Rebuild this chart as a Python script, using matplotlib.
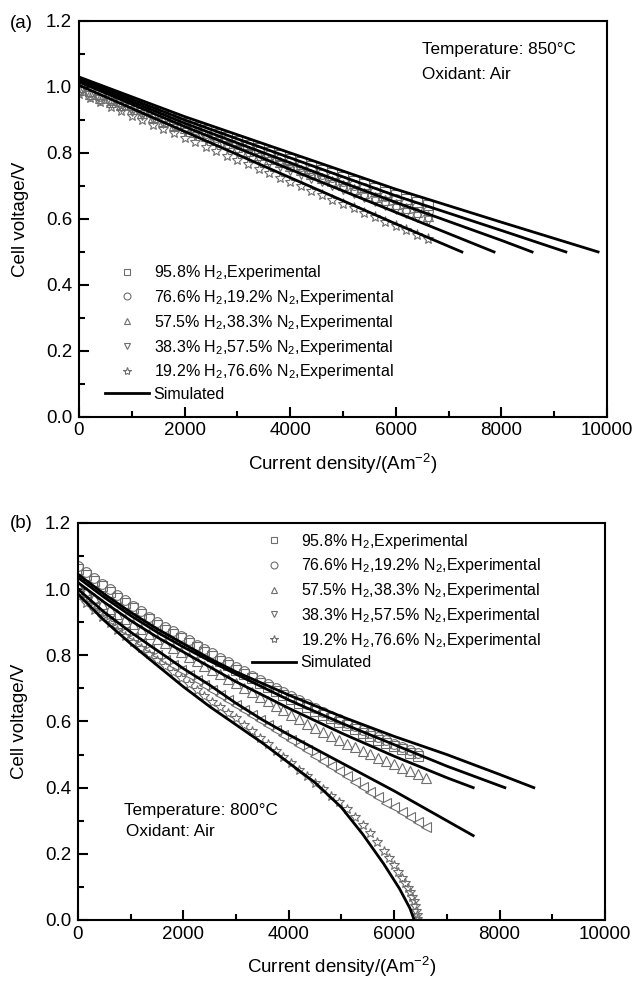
import matplotlib
matplotlib.use('Agg')
import matplotlib.pyplot as plt
from matplotlib.lines import Line2D

plt.rcParams['font.family'] = ['Liberation Sans', 'DejaVu Sans']
plt.rcParams['mathtext.fontset'] = 'custom'
plt.rcParams['mathtext.rm'] = 'Liberation Sans'
plt.rcParams['mathtext.it'] = 'Liberation Sans:italic'
plt.rcParams['mathtext.bf'] = 'Liberation Sans:bold'

labels = ['95.8% H$_2$,Experimental',
          '76.6% H$_2$,19.2% N$_2$,Experimental',
          '57.5% H$_2$,38.3% N$_2$,Experimental',
          '38.3% H$_2$,57.5% N$_2$,Experimental',
          '19.2% H$_2$,76.6% N$_2$,Experimental']
legend_markers = ['s', 'o', '^', 'v', '*']

# ---------------- panel (a): 850 C ----------------
xa = [0, 200, 400, 600, 800, 1000, 1200, 1400, 1600, 1800, 2000, 2200, 2400, 2600,
      2800, 3000, 3200, 3400, 3600, 3800, 4000, 4200, 4400, 4600, 4800, 5000, 5200,
      5400, 5600, 5800, 6000, 6200, 6400, 6600]
a_958 = [1.000, 0.989, 0.978, 0.967, 0.956, 0.945, 0.934, 0.924, 0.913, 0.902, 0.891,
         0.880, 0.869, 0.858, 0.847, 0.836, 0.825, 0.814, 0.803, 0.793, 0.782, 0.771,
         0.760, 0.749, 0.738, 0.727, 0.716, 0.705, 0.694, 0.683, 0.672, 0.661, 0.651, 0.642]
a_766 = [0.995, 0.984, 0.973, 0.961, 0.950, 0.939, 0.928, 0.917, 0.905, 0.894, 0.883,
         0.872, 0.861, 0.849, 0.838, 0.827, 0.816, 0.805, 0.793, 0.782, 0.771, 0.760,
         0.749, 0.737, 0.726, 0.715, 0.704, 0.693, 0.681, 0.670, 0.659, 0.648, 0.637, 0.625]
a_575 = [0.990, 0.978, 0.967, 0.955, 0.944, 0.932, 0.921, 0.909, 0.898, 0.886, 0.875,
         0.863, 0.852, 0.840, 0.829, 0.817, 0.806, 0.794, 0.783, 0.771, 0.760, 0.748,
         0.737, 0.725, 0.714, 0.702, 0.690, 0.679, 0.667, 0.656, 0.644, 0.633, 0.621, 0.610]
a_383 = [0.985, 0.973, 0.961, 0.950, 0.938, 0.926, 0.914, 0.902, 0.891, 0.879, 0.867,
         0.855, 0.843, 0.832, 0.820, 0.808, 0.796, 0.784, 0.773, 0.761, 0.749, 0.737,
         0.725, 0.714, 0.702, 0.690, 0.678, 0.666, 0.655, 0.643, 0.631, 0.619, 0.607, 0.596]
a_192 = [0.980, 0.967, 0.953, 0.940, 0.926, 0.913, 0.900, 0.886, 0.873, 0.859, 0.846,
         0.833, 0.819, 0.806, 0.792, 0.779, 0.766, 0.752, 0.739, 0.725, 0.712, 0.699,
         0.685, 0.672, 0.658, 0.645, 0.632, 0.618, 0.605, 0.591, 0.578, 0.565, 0.551, 0.540]

# simulated lines (a)
sa_x = [[0, 2000, 4000, 6000, 8000, 9830],
        [0, 2000, 4000, 6000, 8000, 9220],
        [0, 2000, 4000, 6000, 8000, 8580],
        [0, 2000, 4000, 6000, 7860],
        [0, 2000, 4000, 6000, 7250]]
sa_y = [[1.030, 0.910, 0.800, 0.690, 0.590, 0.500],
        [1.025, 0.900, 0.785, 0.670, 0.565, 0.500],
        [1.020, 0.890, 0.770, 0.650, 0.535, 0.500],
        [1.015, 0.880, 0.750, 0.620, 0.500],
        [1.005, 0.865, 0.725, 0.585, 0.500]]

# ---------------- panel (b): 800 C ----------------
xb = [0, 150, 300, 450, 600, 750, 900, 1050, 1200, 1350, 1500, 1650, 1800, 1950, 2100,
      2250, 2400, 2550, 2700, 2850, 3000, 3150, 3300, 3450, 3600, 3750, 3900, 4050,
      4200, 4350, 4500, 4650, 4800, 4950, 5100, 5250, 5400, 5550, 5700, 5850, 6000,
      6150, 6300, 6450, 6600]
b_958 = [1.062, 1.044, 1.026, 1.008, 0.991, 0.974, 0.958, 0.942, 0.925, 0.909, 0.892,
         0.878, 0.865, 0.851, 0.838, 0.824, 0.811, 0.798, 0.784, 0.771, 0.757, 0.744,
         0.730, 0.717, 0.704, 0.692, 0.680, 0.668, 0.656, 0.644, 0.632, 0.621, 0.610,
         0.599, 0.588, 0.577, 0.566, 0.556, 0.545, 0.535, 0.525, 0.516, 0.506, 0.497]
b_766 = [1.070, 1.052, 1.034, 1.016, 0.999, 0.982, 0.966, 0.950, 0.933, 0.917, 0.900,
         0.886, 0.873, 0.859, 0.846, 0.832, 0.819, 0.806, 0.792, 0.779, 0.765, 0.752,
         0.738, 0.725, 0.712, 0.700, 0.688, 0.676, 0.664, 0.652, 0.640, 0.629, 0.618,
         0.607, 0.596, 0.585, 0.574, 0.564, 0.553, 0.543, 0.533, 0.524, 0.514, 0.505]
b_575 = [1.010, 0.992, 0.974, 0.956, 0.940, 0.925, 0.910, 0.895, 0.880, 0.865, 0.850,
         0.836, 0.823, 0.809, 0.796, 0.782, 0.769, 0.755, 0.742, 0.728, 0.715, 0.701,
         0.688, 0.674, 0.661, 0.647, 0.634, 0.620, 0.607, 0.593, 0.580, 0.568, 0.556,
         0.544, 0.533, 0.522, 0.512, 0.501, 0.491, 0.480, 0.470, 0.460, 0.450, 0.440, 0.430]
b_383 = [0.990, 0.969, 0.948, 0.927, 0.908, 0.890, 0.872, 0.854, 0.836, 0.818, 0.800,
         0.785, 0.770, 0.755, 0.740, 0.725, 0.710, 0.695, 0.680, 0.665, 0.650, 0.635,
         0.620, 0.605, 0.590, 0.575, 0.560, 0.545, 0.529, 0.513, 0.497, 0.482, 0.466,
         0.450, 0.434, 0.418, 0.403, 0.387, 0.371, 0.355, 0.340, 0.325, 0.310, 0.295, 0.280]
xb_192 = [0, 150, 300, 450, 600, 750, 900, 1050, 1200, 1350, 1500, 1650, 1800, 1950,
          2100, 2250, 2400, 2550, 2700, 2850, 3000, 3150, 3300, 3450, 3600, 3750, 3900,
          4050, 4200, 4350, 4500, 4650, 4800, 4950, 5100, 5250, 5400, 5550, 5680, 5800,
          5900, 6000, 6080, 6150, 6210, 6260, 6300, 6340, 6370, 6395, 6412, 6425, 6432]
b_192 = [0.980, 0.958, 0.937, 0.916, 0.897, 0.877, 0.858, 0.839, 0.821, 0.803, 0.785,
         0.767, 0.749, 0.731, 0.713, 0.695, 0.677, 0.660, 0.643, 0.627, 0.610, 0.590,
         0.571, 0.551, 0.532, 0.512, 0.493, 0.473, 0.454, 0.434, 0.415, 0.396, 0.376,
         0.357, 0.334, 0.310, 0.286, 0.262, 0.235, 0.210, 0.188, 0.165, 0.145, 0.128,
         0.112, 0.097, 0.085, 0.070, 0.056, 0.042, 0.028, 0.014, 0.003]

# simulated lines (b)
sb_x = [[0, 500, 1000, 1500, 2000, 2500, 3000, 4000, 5000, 6000, 7000, 8000, 8650],
        [0, 500, 1000, 1500, 2000, 2500, 3000, 4000, 5000, 6000, 7000, 8100],
        [0, 500, 1000, 1500, 2000, 2500, 3000, 4000, 5000, 6000, 7000, 7500],
        [0, 500, 1000, 1500, 2000, 2500, 3000, 3500, 4000, 5000, 6000, 7000, 7500],
        [0, 500, 1000, 1500, 2000, 2500, 3000, 3500, 4000, 4500, 5000, 5400, 5800,
         6100, 6300, 6380]]
sb_y = [[1.045, 0.985, 0.930, 0.880, 0.835, 0.790, 0.750, 0.680, 0.615, 0.555, 0.500, 0.440, 0.400],
        [1.035, 0.975, 0.920, 0.870, 0.825, 0.783, 0.743, 0.665, 0.595, 0.530, 0.465, 0.400],
        [1.020, 0.960, 0.905, 0.855, 0.810, 0.765, 0.720, 0.640, 0.565, 0.495, 0.430, 0.400],
        [1.000, 0.930, 0.870, 0.815, 0.760, 0.710, 0.655, 0.605, 0.560, 0.475, 0.390, 0.300, 0.255],
        [0.985, 0.905, 0.835, 0.770, 0.705, 0.645, 0.590, 0.535, 0.475, 0.415, 0.340, 0.260,
         0.170, 0.095, 0.035, 0.000]]

mk_col = '#6e6e6e'

fig = plt.figure(figsize=(6.37, 9.81), dpi=100)
ax1 = fig.add_axes([0.124, 0.575, 0.829, 0.4037])
ax2 = fig.add_axes([0.1224, 0.0622, 0.8273, 0.4047])


def style_axis(ax):
    ax.set_xlim(0, 10000)
    ax.set_ylim(0, 1.2)
    ax.set_xticks([0, 2000, 4000, 6000, 8000, 10000])
    ax.set_xticks([1000, 3000, 5000, 7000, 9000], minor=True)
    ax.set_yticks([0.0, 0.2, 0.4, 0.6, 0.8, 1.0, 1.2])
    ax.set_yticks([0.1, 0.3, 0.5, 0.7, 0.9, 1.1], minor=True)
    ax.set_yticklabels(['0.0', '0.2', '0.4', '0.6', '0.8', '1.0', '1.2'])
    ax.tick_params(which='both', direction='in', top=False, right=False,
                   labelsize=13.5, width=1.5)
    ax.tick_params(which='major', length=7)
    ax.tick_params(which='minor', length=4)
    ax.tick_params(axis='x', pad=4)
    ax.tick_params(axis='y', pad=5)
    for s in ax.spines.values():
        s.set_linewidth(1.5)
    ax.set_xlabel('Current density/(Am$^{-2}$)', fontsize=13.5, labelpad=9)
    ax.set_ylabel('Cell voltage/V', fontsize=13.5, labelpad=12)


def legend_handles(markers):
    hs = []
    for m in markers:
        ms = 5 if m != '*' else 6
        hs.append(Line2D([], [], ls='none', marker=m, mfc='none', mec=mk_col,
                         mew=0.8, ms=ms))
    hs.append(Line2D([], [], color='black', lw=2))
    return hs


leg_kw = dict(loc='upper left', frameon=False, fontsize=11.5, handlelength=2.75,
              handletextpad=0.3, labelspacing=0.36, borderpad=0,
              borderaxespad=0, numpoints=1)

# panel (a)
series_a = [a_958, a_766, a_575, a_383, a_192]
for ys, m in zip(series_a, ['s', 'o', '^', 'v', '*']):
    ax1.plot(xa[:len(ys)], ys, ls='none', marker=m, mfc='none', mec=mk_col,
             mew=0.8, ms=7 if m != '*' else 8)
for sx, sy in zip(sa_x, sa_y):
    ax1.plot(sx, sy, color='black', lw=2)
style_axis(ax1)
ax1.legend(legend_handles(legend_markers), labels + ['Simulated'],
           bbox_to_anchor=(0.049, 0.388), **leg_kw)
ax1.text(0.65, 0.927, 'Temperature: 850°C', transform=ax1.transAxes,
         fontsize=12.3, va='center', ha='left')
ax1.text(0.65, 0.864, 'Oxidant: Air', transform=ax1.transAxes,
         fontsize=12.3, va='center', ha='left')
fig.text(10 / 637, 1 - 23 / 981, '(a)', fontsize=13.5, va='center', ha='left')

# panel (b)
series_b = [(xb, b_958, 's'), (xb, b_766, 'o'), (xb, b_575, '^'),
            (xb, b_383, '<'), (xb_192, b_192, '*')]
for xs, ys, m in series_b:
    ax2.plot(xs[:len(ys)], ys, ls='none', marker=m, mfc='none', mec=mk_col,
             mew=0.8, ms=7 if m != '*' else 7.5)
for sx, sy in zip(sb_x, sb_y):
    ax2.plot(sx, sy, color='black', lw=2)
style_axis(ax2)
ax2.legend(legend_handles(legend_markers), labels + ['Simulated'],
           bbox_to_anchor=(0.330, 0.978), **leg_kw)
ax2.text(0.087, 0.277, 'Temperature: 800°C', transform=ax2.transAxes,
         fontsize=12.3, va='center', ha='left')
ax2.text(0.091, 0.222, 'Oxidant: Air', transform=ax2.transAxes,
         fontsize=12.3, va='center', ha='left')
fig.text(10 / 637, 1 - 523 / 981, '(b)', fontsize=13.5, va='center', ha='left')

fig.savefig('out.png', dpi=100)
